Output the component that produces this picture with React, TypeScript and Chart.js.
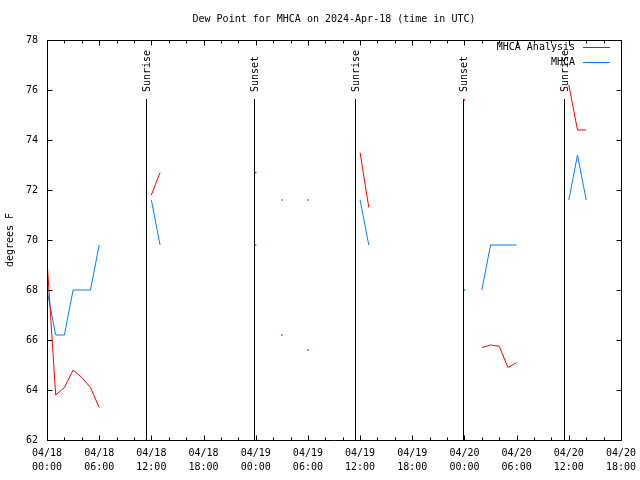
import React, { useEffect, useRef } from "react";
import { Chart, registerables } from "chart.js";

Chart.register(...registerables);

// Hours since 2024-04-18 00:00 UTC (null values break the line)
const hours = [0, 1, 2, 3, 4, 5, 6, 7, 12, 13, 14, 24, 25, 27, 28, 30, 31, 36, 37, 38, 48, 49, 50, 51, 52, 53, 54, 55, 60, 61, 62];
const analysisValues = [69.2, 63.8, 64.1, 64.8, 64.5, 64.1, 63.3, null, 71.8, 72.7, null, 72.7, null, 66.2, null, 65.6, null, 73.5, 71.3, null, 75.6, null, 65.7, 65.8, 65.75, 64.9, 65.1, null, 76.2, 74.4, 74.4];
const stationValues = [68.0, 66.2, 66.2, 68.0, 68.0, 68.0, 69.8, null, 71.6, 69.8, null, 69.8, null, 71.6, null, 71.6, null, 71.6, 69.8, null, 68.0, null, 68.0, 69.8, 69.8, 69.8, 69.8, null, 71.6, 73.4, 71.6];

const xTickDays = ["04/18", "04/18", "04/18", "04/18", "04/19", "04/19", "04/19", "04/19", "04/20", "04/20", "04/20", "04/20"];
const xTickTimes = ["00:00", "06:00", "12:00", "18:00", "00:00", "06:00", "12:00", "18:00", "00:00", "06:00", "12:00", "18:00"];

const sunHours = [11.44, 23.85, 35.45, 47.86, 59.46];
const sunLabels = ["Sunrise", "Sunset", "Sunrise", "Sunset", "Sunrise"];

const TITLE = "Dew Point for MHCA on 2024-Apr-18 (time in UTC)";
const Y_TITLE = "degrees F";
const FONT = "10px 'DejaVu Sans Mono', monospace";

const isolatedRadius = (ctx: any) => {
  const d = ctx.dataset.data;
  const i = ctx.dataIndex;
  const cur = d[i];
  if (!cur || cur.y === null) return 0;
  const prev = d[i - 1];
  const next = d[i + 1];
  const pn = !prev || prev.y === null;
  const nn = !next || next.y === null;
  return pn && nn ? 1 : 0;
};

const decorPlugin = {
  id: "decor",
  afterDraw(chart: any) {
    const { ctx, chartArea: a, scales } = chart;
    const xs = scales.x;
    const ys = scales.y;
    const L = Math.round(a.left) + 0.5;
    const R = Math.round(a.right) + 0.5;
    const T = Math.round(a.top) + 0.5;
    const B = Math.round(a.bottom) + 0.5;
    ctx.save();
    ctx.strokeStyle = "#000";
    ctx.lineWidth = 1;
    // sun lines
    ctx.font = FONT;
    ctx.fillStyle = "#000";
    sunHours.forEach((h, i) => {
      const x = Math.round(xs.getPixelForValue(h)) + 0.5;
      ctx.beginPath();
      ctx.moveTo(x, 99);
      ctx.lineTo(x, B);
      ctx.stroke();
      ctx.save();
      ctx.translate(x + 0.5, 92);
      ctx.rotate(-Math.PI / 2);
      ctx.textAlign = "left";
      ctx.textBaseline = "middle";
      ctx.fillText(sunLabels[i], 0, 0);
      ctx.restore();
    });
    // frame
    ctx.beginPath();
    ctx.rect(L, T, R - L, B - T);
    ctx.stroke();
    // x ticks
    for (let h = 0; h <= 66; h += 2) {
      const x = Math.round(xs.getPixelForValue(h)) + 0.5;
      const len = h % 6 === 0 ? 5 : 3;
      ctx.beginPath();
      ctx.moveTo(x, B);
      ctx.lineTo(x, B - len);
      ctx.moveTo(x, T);
      ctx.lineTo(x, T + len);
      ctx.stroke();
    }
    // y ticks
    for (let v = 62; v <= 78; v += 2) {
      const y = Math.round(ys.getPixelForValue(v)) + 0.5;
      ctx.beginPath();
      ctx.moveTo(L, y);
      ctx.lineTo(L + 5, y);
      ctx.moveTo(R, y);
      ctx.lineTo(R - 5, y);
      ctx.stroke();
    }
    // title
    ctx.textAlign = "center";
    ctx.textBaseline = "middle";
    ctx.fillText(TITLE, (a.left + a.right) / 2, 19);
    // y title
    ctx.save();
    ctx.translate(10, 240);
    ctx.rotate(-Math.PI / 2);
    ctx.textAlign = "center";
    ctx.textBaseline = "middle";
    ctx.fillText(Y_TITLE, 0, 0);
    ctx.restore();
    // legend
    chart.data.datasets.forEach((ds: any, i: number) => {
      const y = 47 + 15 * i;
      ctx.textAlign = "right";
      ctx.textBaseline = "middle";
      ctx.fillStyle = "#000";
      ctx.fillText(ds.label, 575, y);
      ctx.strokeStyle = ds.borderColor;
      ctx.beginPath();
      ctx.moveTo(583, y + 0.5);
      ctx.lineTo(610, y + 0.5);
      ctx.stroke();
    });
    ctx.restore();
  },
};

export default function App() {
  const ref = useRef<HTMLCanvasElement | null>(null);
  useEffect(() => {
    document.body.style.margin = "0";
    const canvas = ref.current!;
    const mk = (vals: (number | null)[]) => hours.map((h, i) => ({ x: h, y: vals[i] }));
    const chart = new Chart(canvas, {
      type: "line",
      data: {
        datasets: [
          {
            label: "MHCA Analysis",
            data: mk(analysisValues) as any,
            borderColor: "#ff0000",
            backgroundColor: "#ff0000",
            borderWidth: 1,
            pointRadius: isolatedRadius as any,
            pointStyle: "rect",
            pointBorderWidth: 0,
            tension: 0,
            spanGaps: false,
          },
          {
            label: "MHCA",
            data: mk(stationValues) as any,
            borderColor: "#0080ff",
            backgroundColor: "#0080ff",
            borderWidth: 1,
            pointRadius: isolatedRadius as any,
            pointStyle: "rect",
            pointBorderWidth: 0,
            tension: 0,
            spanGaps: false,
          },
        ],
      },
      options: {
        animation: false,
        responsive: false,
        devicePixelRatio: 1,
        events: [],
        layout: { padding: { top: 40, right: 19, left: 0, bottom: 0 } },
        plugins: { legend: { display: false }, title: { display: false }, tooltip: { enabled: false } },
        scales: {
          x: {
            type: "linear",
            min: 0,
            max: 66,
            grid: { display: false, drawTicks: false },
            border: { display: false },
            ticks: {
              stepSize: 6,
              autoSkip: false,
              maxRotation: 0,
              padding: 6,
              color: "#000",
              font: { family: "'DejaVu Sans Mono', monospace", size: 10, lineHeight: 1.4 },
              callback: (_v: any, i: number) => [xTickDays[i], xTickTimes[i]],
            },
            afterFit: (s: any) => {
              s.height = 40;
              s.paddingRight = 0;
              s.paddingLeft = 0;
            },
          },
          y: {
            min: 62,
            max: 78,
            grid: { display: false, drawTicks: false },
            border: { display: false },
            ticks: {
              stepSize: 2,
              padding: 9,
              color: "#000",
              font: { family: "'DejaVu Sans Mono', monospace", size: 10 },
            },
            afterFit: (s: any) => {
              s.width = 47;
            },
          },
        },
      },
      plugins: [decorPlugin],
    });
    return () => chart.destroy();
  }, []);
  return (
    <div style={{ width: 640, height: 480, background: "#fff" }}>
      <canvas ref={ref} width={640} height={480} />
    </div>
  );
}
